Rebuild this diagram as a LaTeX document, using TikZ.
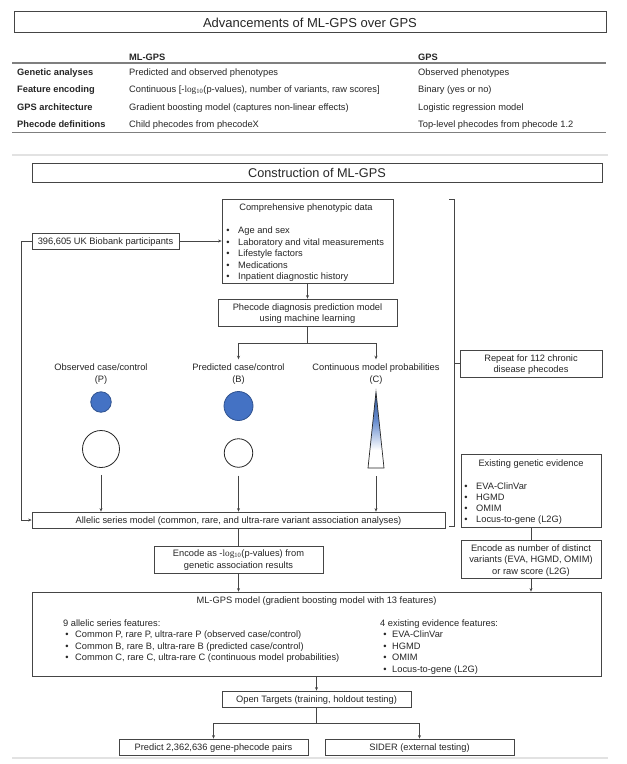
\documentclass[tikz,border=0pt]{standalone}
\usepackage{fontspec}
\setmainfont{Liberation Sans}
\newfontfamily\serifrm{Liberation Serif}
\usetikzlibrary{arrows.meta}
\definecolor{ink}{HTML}{262626}
\definecolor{boxc}{HTML}{454545}
\definecolor{cblue}{HTML}{4472C4}
\definecolor{cbluedark}{HTML}{2F528F}
\definecolor{trib}{HTML}{2F5597}
\definecolor{sepc}{HTML}{E2E2E2}
\definecolor{rulec}{HTML}{7F7F7F}
\newcommand{\mlog}{-{\serifrm log\textsubscript{10}}}
\newcommand{\tfont}{\fontsize{9.3}{11.5}\selectfont}
\begin{document}
\begin{tikzpicture}[x=1pt,y=-1pt,
  every node/.style={font=\tfont, text=ink},
  box/.style={draw=boxc, line width=0.8pt, inner sep=0pt, text height=8.5pt, text depth=1.3pt},
  ebox/.style={draw=boxc, line width=0.8pt, inner sep=0pt},
  tb/.style={anchor=base west, inner sep=0pt},
  lbl/.style={anchor=west, inner sep=0pt, text height=8.5pt, text depth=1.3pt},
  bul/.style={anchor=center, inner sep=0pt, text height=8.5pt, text depth=1.3pt},
  ttl/.style={anchor=center, inner sep=0pt, text height=8.5pt, text depth=1.3pt},
  ctr/.style={inner sep=0pt, align=center},
  conn/.style={draw=boxc, line width=0.7pt},
  arr/.style={conn, -{Stealth[length=3.5pt,width=3pt]}},
  rulel/.style={draw=rulec, line width=1.2pt},
  sepline/.style={draw=sepc, line width=2pt},
]
\useasboundingbox (0,0) rectangle (627,764);
\fill[white] (0,0) rectangle (627,764);

% ---------- top table ----------
\node[box, minimum width=592pt, minimum height=21pt, text height=12pt, text depth=0.7pt, font=\fontsize{13}{15}\selectfont] (adv) at (310,21.5) {Advancements of ML-GPS over GPS};
\node[tb, font=\tfont\bfseries] (hml) at (129,60.5) {ML-GPS};
\node[tb, font=\tfont\bfseries] (hgps) at (418,60.5) {GPS};
\draw[rulel] (12,63) -- (606,63);

\node[tb, font=\tfont\bfseries] (r1a) at (17,75) {Genetic analyses};
\node[tb] (r1b) at (129,75) {Predicted and observed phenotypes};
\node[tb] (r1c) at (418,75) {Observed phenotypes};

\node[tb, font=\tfont\bfseries] (r2a) at (17,92.6) {Feature encoding};
\node[tb] (r2b) at (129,92.6) {Continuous [\mlog(p-values), number of variants, raw scores]};
\node[tb] (r2c) at (418,92.6) {Binary (yes or no)};

\node[tb, font=\tfont\bfseries] (r3a) at (17,110) {GPS architecture};
\node[tb] (r3b) at (129,110) {Gradient boosting model (captures non-linear effects)};
\node[tb] (r3c) at (418,110) {Logistic regression model};

\node[tb, font=\tfont\bfseries] (r4a) at (17,127.3) {Phecode definitions};
\node[tb] (r4b) at (129,127.3) {Child phecodes from phecodeX};
\node[tb] (r4c) at (418,127.3) {Top-level phecodes from phecode 1.2};
\draw[rulel] (12,132.5) -- (606,132.5);
\draw[sepline] (12,155) -- (608,155);

% ---------- construction ----------
\node[box, minimum width=570pt, minimum height=19pt, text height=10pt, text depth=0.7pt, font=\fontsize{12.7}{15}\selectfont] (con) at (317,172.5) {Construction of ML-GPS};

\node[box, minimum width=147pt, minimum height=16pt] (ukb) at (105.5,241) {396,605 UK Biobank participants};
\node[ebox, minimum width=171pt, minimum height=84pt] (comp) at (307.5,241) {};
\node[ttl] (compt) at (306,207) {Comprehensive phenotypic data};
\foreach \txt [count=\i] in {Age and sex, Laboratory and vital measurements, Lifestyle factors, Medications, Inpatient diagnostic history} {
  \node[bul] (cd\i) at (228,218.8+11.5*\i) {•};
  \node[lbl] (ct\i) at (238,218.8+11.5*\i) {\txt};
}
\node[ebox, minimum width=179pt, minimum height=27pt] (phec) at (307.5,312.5) {};
\node[ctr, font=\fontsize{9.3}{11}\selectfont] (phect) at (307.5,313.4) {Phecode diagnosis prediction model\\using machine learning};
\draw[arr] (ukb.east) -- (comp.west);
\draw[arr] (comp.south) -- (phec.north);

% labels
\node[ctr, font=\fontsize{9.3}{12}\selectfont] (lblP) at (101,373.8) {Observed case/control\\(P)};
\node[ctr, font=\fontsize{9.3}{12}\selectfont] (lblB) at (238.5,373.8) {Predicted case/control\\(B)};
\node[ctr, font=\fontsize{9.3}{12}\selectfont] (lblC) at (376,373.8) {Continuous model probabilities\\(C)};
\draw[conn] (phec.south) -- ++(0,17) coordinate (bj);
\draw[arr, shorten >=4pt] (bj) -| (lblB.north);
\draw[arr, shorten >=4pt] (bj) -| (lblC.north);

% circles
\node[circle, draw=cbluedark, fill=cblue, line width=0.8pt, minimum size=20.5pt, inner sep=0pt] (bP) at (101,402) {};
\node[circle, draw=ink, fill=white, line width=0.8pt, minimum size=37pt, inner sep=0pt] (wP) at (101,449) {};
\node[circle, draw=cbluedark, fill=cblue, line width=0.8pt, minimum size=29pt, inner sep=0pt] (bB) at (238.5,406) {};
\node[circle, draw=ink, fill=white, line width=0.8pt, minimum size=28.5pt, inner sep=0pt] (wB) at (238.5,453) {};

% triangle
\begin{scope}
  \clip (376,392) -- (384,468) -- (368,468) -- cycle;
  \shade[top color=trib, bottom color=white, middle color=cblue!80] (366,392) rectangle (386,450);
\end{scope}
\draw[draw=ink, line width=0.7pt, line join=miter] (376,392) -- (384,468) -- (368,468) -- cycle;
\coordinate (triC) at (376,468);

% allelic series
\node[box, minimum width=413pt, minimum height=16pt] (alle) at (238.5,520) {Allelic series model (common, rare, and ultra-rare variant association analyses)};
\draw[arr, shorten <=7pt] (wP.south) -- (wP.south |- alle.north);
\draw[arr, shorten <=8pt] (wB.south) -- (wB.south |- alle.north);
\draw[arr, shorten <=8pt] (triC) -- (triC |- alle.north);
\draw[arr] (ukb.west) -- ++(-10,0) |- (alle.west);

% bracket + repeat
\draw[conn] (449,199) -- (454,199) -- (454,526) -- (449,526);
\coordinate (brk) at (454,363.5);
\node[ebox, minimum width=142pt, minimum height=27pt] (rep) at (531,363.5) {};
\node[ctr, font=\fontsize{9.3}{11}\selectfont] (rept) at (531,364.4) {Repeat for 112 chronic\\disease phecodes};
\draw[conn] (brk) -- (rep.west);

% existing evidence
\node[ebox, minimum width=140pt, minimum height=73pt] (exist) at (531,490.5) {};
\node[ttl] (existt) at (531,463) {Existing genetic evidence};
\foreach \txt/\yy [count=\i] in {EVA-ClinVar/486, HGMD/497, OMIM/508, Locus-to-gene (L2G)/519} {
  \node[bul] (ed\i) at (466,\yy) {•};
  \node[lbl] (et\i) at (476,\yy) {\txt};
}

% encode boxes
\node[ebox, minimum width=169pt, minimum height=27pt] (enc1) at (238.5,559.5) {};
\node[ctr, font=\fontsize{9.3}{12.5}\selectfont] (enc1t) at (238.5,560.2) {Encode as \mlog(p-values) from\\genetic association results};
\node[ebox, minimum width=140pt, minimum height=38pt] (enc2) at (531,559) {};
\node[ctr, font=\fontsize{9.3}{11.5}\selectfont] (enc2t) at (531,560.4) {Encode as number of distinct\\variants (EVA, HGMD, OMIM)\\or raw score (L2G)};
\draw[conn] (alle.south) -- (enc1.north);
\draw[conn] (exist.south) -- (enc2.north);

% ML-GPS model
\node[ebox, minimum width=569pt, minimum height=84pt] (ml) at (316.5,634) {};
\draw[arr] (enc1.south) -- (enc1.south |- ml.north);
\draw[arr] (enc2.south) -- (enc2.south |- ml.north);
\node[ttl] (mlt) at (316.5,600) {ML-GPS model (gradient boosting model with 13 features)};
\node[lbl] (al) at (63,623) {9 allelic series features:};
\foreach \txt/\yy [count=\i] in {{Common P, rare P, ultra-rare P (observed case/control)}/634, {Common B, rare B, ultra-rare B (predicted case/control)}/645.5, {Common C, rare C, ultra-rare C (continuous model probabilities)}/657} {
  \node[bul] (md\i) at (67,\yy) {•};
  \node[lbl] (mt\i) at (75,\yy) {\txt};
}
\node[lbl] (ex) at (380,623) {4 existing evidence features:};
\foreach \txt/\yy [count=\i] in {EVA-ClinVar/634, HGMD/645.5, OMIM/657, Locus-to-gene (L2G)/668.5} {
  \node[bul] (nd\i) at (385,\yy) {•};
  \node[lbl] (nt\i) at (392,\yy) {\txt};
}

% open targets
\node[box, minimum width=189pt, minimum height=16pt] (ot) at (316.5,699) {Open Targets (training, holdout testing)};
\draw[arr] (ml.south) -- (ot.north);
\node[box, minimum width=189pt, minimum height=16pt] (pred) at (213.5,747) {Predict 2,362,636 gene-phecode pairs};
\node[box, minimum width=189pt, minimum height=16pt] (sider) at (419.5,747) {SIDER (external testing)};
\draw[conn] (ot.south) -- ++(0,16) coordinate (oj);
\draw[arr] (oj) -| (pred.north);
\draw[arr] (oj) -| (sider.north);

\draw[sepline] (12,757.5) -- (608,757.5);
\end{tikzpicture}
\end{document}
